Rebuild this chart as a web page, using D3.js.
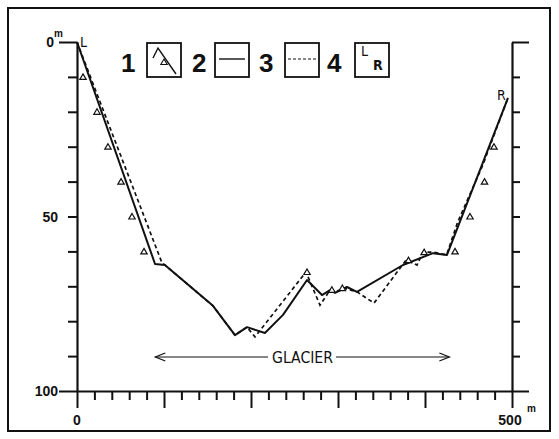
<!DOCTYPE html>
<html><head><meta charset="utf-8">
<script src="https://cdn.jsdelivr.net/npm/d3@7/dist/d3.min.js"></script>
<style>html,body{margin:0;padding:0;background:#fff;}svg{display:block;}</style>
</head><body>
<svg id="c" width="559" height="439"></svg>
<script>
// ---- data (distance across valley in m, depth in m) ----
const solidX     = [0, 89.7, 101, 156.3, 181.6, 195.4, 216, 236.8, 264.4, 281.6, 290.8, 296.6, 310.3, 321.8, 374.7, 409.2, 425.3, 495.4];
const solidDepth = [0, 63.6, 63.9, 75.6, 84, 81.7, 83.4, 78.2, 68.2, 72.5, 71.1, 71.9, 70.2, 71.6, 63.9, 60.5, 61, 16];
const dashX      = [0, 97.7, 101, 156.3, 181.6, 195.4, 204.6, 263.2, 279.3, 290.8, 297.7, 305.7, 321.8, 341.4, 378.2, 390.8, 397.7, 409.2, 424.8, 437.6, 466.5, 495.4];
const dashDepth  = [0, 63.3, 63.9, 75.6, 84, 81.7, 84.5, 65.9, 75.4, 71.1, 71.6, 70.5, 71.6, 74.8, 62.5, 63.9, 60.2, 60.2, 61, 51.6, 35.2, 16];
const triX       = [6.9, 23, 35.6, 50.6, 63.2, 77, 264.4, 293, 305, 381, 399, 434.5, 451.7, 468.4, 479.3];
const triDepth   = [10, 20, 30, 40, 50, 60, 65.9, 71, 70.5, 62.5, 60.2, 60, 50, 40, 30];
const depthTicks = d3.range(0, 101, 10);
const depthLabels = [0, 50, 100];
const distTicks = d3.range(0, 501, 20);
const distLabels = [0, 500];
const legendNums = ["1", "2", "3", "4"];
const glacierLabel = "GLACIER";
const glacierFrom = 90, glacierTo = 428;

const svg = d3.select("#c");
const x = d3.scaleLinear().domain([0, 500]).range([77, 512]);
const y = d3.scaleLinear().domain([0, 100]).range([42, 391]);
const ink = "#111";

// outer frame
svg.append("rect").attr("x", 8).attr("y", 8).attr("width", 542).attr("height", 423)
  .attr("fill", "none").attr("stroke", ink).attr("stroke-width", 2);

function styleAxis(g) {
  g.selectAll("path.domain").attr("stroke", ink).attr("stroke-width", 2.2);
  g.selectAll(".tick line").attr("stroke", ink).attr("stroke-width", 2);
  g.selectAll(".tick text").remove();
}
// left axis
const gl = svg.append("g").attr("transform", `translate(${x(0)},0)`)
  .call(d3.axisLeft(y).tickValues(depthTicks).tickSize(9).tickSizeOuter(0).tickFormat(""));
styleAxis(gl);
gl.selectAll(".tick line").filter(d => d === 0 || d === 100).attr("x2", -18);
// right axis
const gr = svg.append("g").attr("transform", `translate(${x(500)},0)`)
  .call(d3.axisRight(y).tickValues(depthTicks).tickSize(8).tickSizeOuter(0).tickFormat(""));
styleAxis(gr);
gr.selectAll(".tick line").filter(d => d === 0 || d === 100).attr("x2", 17);
// bottom axis
const gb = svg.append("g").attr("transform", `translate(0,${y(100)})`)
  .call(d3.axisBottom(x).tickValues(distTicks).tickSize(9).tickSizeOuter(0).tickFormat(""));
styleAxis(gb);
gb.selectAll(".tick line").filter(d => d % 100 === 0).attr("y2", 17);

const bold = "'Liberation Sans', Arial, sans-serif";
// depth labels
depthLabels.forEach(v => {
  svg.append("text").attr("x", x(0) - (v === 0 ? 23 : 19)).attr("y", y(v) + 5)
    .attr("text-anchor", "end").attr("font-family", bold).attr("font-weight", "bold")
    .attr("font-size", 14).attr("fill", ink).text(v);
});
svg.append("text").attr("x", x(0) - 23).attr("y", y(0) - 5).attr("font-family", bold)
  .attr("font-weight", "bold").attr("font-size", 10).attr("fill", ink).text("m");
// distance labels
distLabels.forEach(v => {
  svg.append("text").attr("x", x(v) - (v === 500 ? 2 : 0)).attr("y", y(100) + 34)
    .attr("text-anchor", "middle").attr("font-family", bold).attr("font-weight", "bold")
    .attr("font-size", 14).attr("fill", ink).text(v);
});
svg.append("text").attr("x", x(500) + 15).attr("y", y(100) + 21).attr("font-family", bold)
  .attr("font-weight", "bold").attr("font-size", 10).attr("fill", ink).text("m");

// profiles
const line = d3.line().x(d => x(d[0])).y(d => y(d[1]));
svg.append("path").datum(dashX.map((v, i) => [v, dashDepth[i]]))
  .attr("d", line).attr("fill", "none").attr("stroke", ink).attr("stroke-width", 1.7)
  .attr("stroke-dasharray", "4,3");
svg.append("path").datum(solidX.map((v, i) => [v, solidDepth[i]]))
  .attr("d", line).attr("fill", "none").attr("stroke", ink).attr("stroke-width", 2)
  .attr("stroke-linejoin", "round");
// triangles
const tri = "M0,-3 L3.2,2.5 L-3.2,2.5 Z";
svg.selectAll("path.tri").data(triX.map((v, i) => [v, triDepth[i]])).enter()
  .append("path").attr("class", "tri")
  .attr("transform", d => `translate(${x(d[0])},${y(d[1])})`)
  .attr("d", tri).attr("fill", "#fff").attr("stroke", ink).attr("stroke-width", 1.2);

// L / R labels
const narrow = "'Liberation Sans Narrow','DejaVu Sans Condensed',Arial,sans-serif";
svg.append("text").attr("x", x(0) + 3).attr("y", 47).attr("font-family", narrow)
  .attr("font-size", 14).attr("fill", ink).text("L");
svg.append("text").attr("x", x(495.4) - 11).attr("y", 100).attr("font-family", narrow)
  .attr("font-size", 14).attr("fill", ink).text("R");

// glacier arrow
const gy = 357;
const gx1 = x(glacierFrom), gx2 = x(glacierTo);
svg.append("line").attr("x1", gx1).attr("x2", 268).attr("y1", gy).attr("y2", gy).attr("stroke", ink).attr("stroke-width", 1.2);
svg.append("line").attr("x1", 336).attr("x2", gx2).attr("y1", gy).attr("y2", gy).attr("stroke", ink).attr("stroke-width", 1.2);
svg.append("path").attr("d", `M${gx1 + 10},${gy - 4} L${gx1},${gy} L${gx1 + 10},${gy + 4}`).attr("fill", "none").attr("stroke", ink).attr("stroke-width", 1.2);
svg.append("path").attr("d", `M${gx2 - 10},${gy - 4} L${gx2},${gy} L${gx2 - 10},${gy + 4}`).attr("fill", "none").attr("stroke", ink).attr("stroke-width", 1.2);
svg.append("text").attr("x", 272).attr("y", gy + 6).attr("font-family", narrow)
  .attr("font-size", 15).attr("textLength", 61).attr("lengthAdjust", "spacingAndGlyphs")
  .attr("fill", ink).text(glacierLabel);

// legend
const numX = [121, 192, 259, 327];
const boxX = [147, 215, 285, 355];
legendNums.forEach((n, i) => {
  svg.append("text").attr("x", numX[i]).attr("y", 72).attr("font-family", bold).attr("font-weight", "bold")
    .attr("font-size", 26).attr("fill", ink).text(n);
  svg.append("rect").attr("x", boxX[i]).attr("y", 43).attr("width", 34).attr("height", 34)
    .attr("fill", "none").attr("stroke", ink).attr("stroke-width", 1.8);
});
// box contents
svg.append("path").attr("d", "M153,58 L158,48 L176,74").attr("fill", "none").attr("stroke", ink).attr("stroke-width", 1.4);
svg.append("path").attr("transform", "translate(164,62)").attr("d", tri).attr("fill", "#fff").attr("stroke", ink).attr("stroke-width", 1.1);
svg.append("line").attr("x1", 219).attr("x2", 245).attr("y1", 59).attr("y2", 59).attr("stroke", ink).attr("stroke-width", 1.4);
svg.append("line").attr("x1", 288).attr("x2", 317).attr("y1", 59).attr("y2", 59).attr("stroke", ink).attr("stroke-width", 1.2).attr("stroke-dasharray", "3,2");
svg.append("text").attr("x", 361).attr("y", 56).attr("font-family", narrow).attr("font-size", 14).attr("fill", ink).text("L");
svg.append("text").attr("x", 373).attr("y", 70).attr("font-family", narrow).attr("font-size", 14).attr("font-weight", "bold").attr("fill", ink).text("R");
</script>
</body></html>
